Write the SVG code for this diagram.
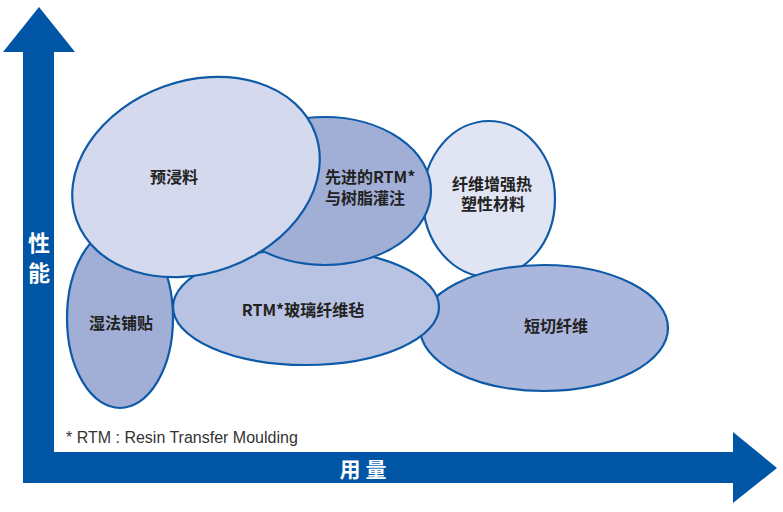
<svg xmlns="http://www.w3.org/2000/svg" width="783" height="512" viewBox="0 0 783 512">
<style>
.el{stroke:#0e5aa7;stroke-width:2.2}
.lbl{font-family:"Noto Sans CJK SC","Liberation Sans",sans-serif;font-weight:bold;font-size:16px;fill:#222}
.ax{font-family:"Noto Sans CJK SC","Liberation Sans",sans-serif;font-weight:bold;fill:#fff}
</style>
<rect width="783" height="512" fill="#fff"/>
<g id="axes" fill="#0055a5">
<polygon points="23,52 3,52 39,7 75,52 54,52 54,452 733,452 733,432 777,468 733,503 733,483 23,483"/>
<text class="ax" x="39" y="251" font-size="22" text-anchor="middle">性</text>
<text class="ax" x="39" y="281" font-size="22" text-anchor="middle">能</text>
<text class="ax" x="363" y="477" font-size="21" text-anchor="middle">用 量</text>
</g>
<g id="connectors"/>
<g id="n-fiber-thermo">
<ellipse class="el" cx="489" cy="199" rx="66" ry="78" fill="#e1e4f2"/>
<text class="lbl" x="492" y="190" text-anchor="middle">纤维增强热</text>
<text class="lbl" x="493" y="210" text-anchor="middle">塑性材料</text>
</g>
<g id="n-chopped">
<ellipse class="el" cx="544" cy="328" rx="124" ry="63" fill="#aab6dc"/>
<text class="lbl" x="556" y="332" text-anchor="middle">短切纤维</text>
</g>
<g id="n-wet">
<ellipse class="el" cx="120" cy="318" rx="53" ry="90" fill="#a1afd7"/>
</g>
<g id="n-rtm-mat">
<ellipse class="el" cx="306" cy="307" rx="133" ry="58" fill="#b8c3e3"/>
<text class="lbl" x="303" y="316" text-anchor="middle">RTM*玻璃纤维毡</text>
</g>
<g id="n-wet-label">
<text class="lbl" x="121" y="329" text-anchor="middle">湿法铺贴</text>
</g>
<g id="n-advanced-rtm">
<ellipse class="el" cx="325" cy="191" rx="106" ry="74" fill="#a1afd7"/>
<text class="lbl" x="325" y="183">先进的RTM*</text>
<text class="lbl" x="325" y="204">与树脂灌注</text>
</g>
<g id="n-prepreg">
<ellipse class="el" cx="196" cy="177" rx="127" ry="96" transform="rotate(-20 196 177)" fill="#d4d9ed"/>
<text class="lbl" x="174" y="183" text-anchor="middle">预浸料</text>
</g>
<text x="66" y="443" font-family="Liberation Sans, Arial, sans-serif" font-size="16" fill="#333">* RTM : Resin Transfer Moulding</text>
</svg>
